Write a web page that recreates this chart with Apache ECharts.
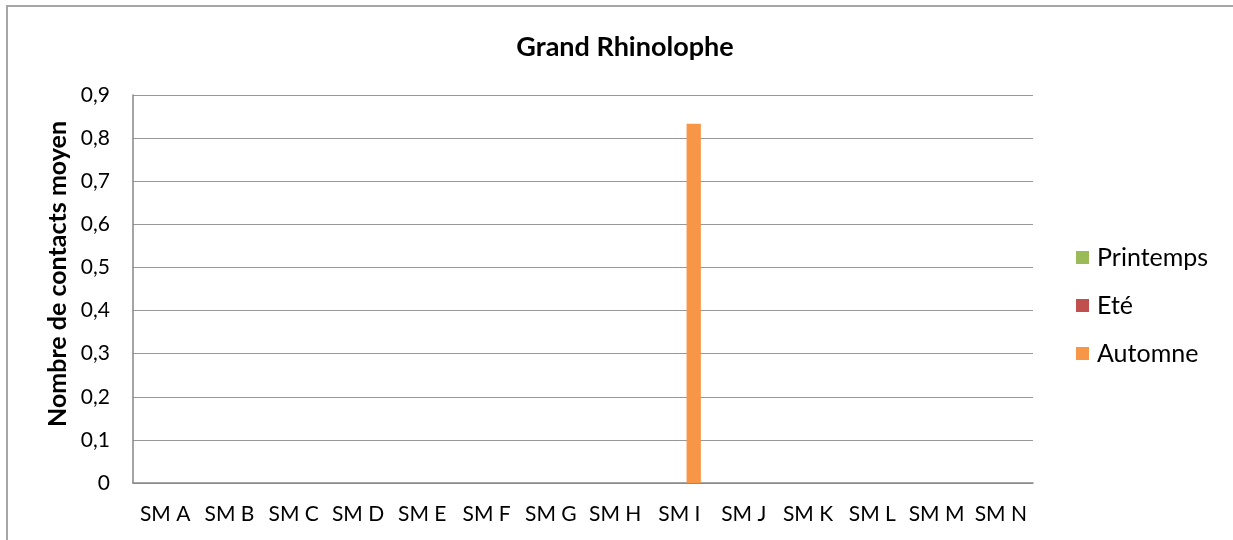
<!DOCTYPE html>
<html>
<head>
<meta charset="utf-8">
<script src="https://cdn.jsdelivr.net/npm/echarts@6/dist/echarts.min.js"></script>
<style>
  html, body { margin: 0; padding: 0; background: #fff; overflow: hidden; }
  #frame { position: absolute; left: 6px; top: 5px; width: 1240px; height: 560px; border-top: 2px solid #a6a6a6; border-left: 2px solid #a6a6a6; box-sizing: border-box; }
  #chart { position: absolute; left: 0; top: 0; width: 1233px; height: 540px; }
</style>
</head>
<body>
<div id="frame"></div>
<div id="chart"></div>
<script>
const categories = ['SM A', 'SM B', 'SM C', 'SM D', 'SM E', 'SM F', 'SM G', 'SM H', 'SM I', 'SM J', 'SM K', 'SM L', 'SM M', 'SM N'];
const printemps = [0, 0, 0, 0, 0, 0, 0, 0, 0, 0, 0, 0, 0, 0];
const ete       = [0, 0, 0, 0, 0, 0, 0, 0, 0, 0, 0, 0, 0, 0];
const automne   = [0, 0, 0, 0, 0, 0, 0, 0, 0.8333, 0, 0, 0, 0, 0];

const FONT = 'Lato, "Open Sans", sans-serif';
const chart = echarts.init(document.getElementById('chart'), null, { renderer: 'canvas' });

function bar(name, data, color) {
  return {
    name, type: 'bar', data,
    barGap: '0%', barCategoryGap: '33.3%',
    itemStyle: { color },
    emphasis: { disabled: true }
  };
}

chart.setOption({
  animation: false,
  backgroundColor: 'transparent',
  title: {
    text: 'Grand Rhinolophe',
    left: 620, top: 29, textAlign: 'center',
    textStyle: { fontFamily: FONT, fontWeight: 'bold', fontSize: 27, color: '#000' }
  },
  legend: {
    orient: 'vertical',
    left: 1076, top: 245, padding: 0,
    itemWidth: 13, itemHeight: 13, itemGap: 23,
    icon: 'rect',
    textStyle: { fontFamily: FONT, fontSize: 25, color: '#000', padding: [0, 0, 0, 3] },
    data: ['Printemps', 'Eté', 'Automne']
  },
  grid: { left: 133, right: 200, top: 95, bottom: 57, containLabel: false },
  xAxis: {
    type: 'category',
    data: categories,
    axisLine: { lineStyle: { color: '#868686', width: 1.5 } },
    axisTick: { show: false },
    axisLabel: { interval: 0, fontFamily: FONT, fontSize: 21, color: '#000', margin: 21 }
  },
  yAxis: {
    type: 'value',
    min: 0, max: 0.9, interval: 0.1,
    name: 'Nombre de contacts moyen',
    nameLocation: 'middle',
    nameGap: 61,
    nameTextStyle: { fontFamily: FONT, fontWeight: 'bold', fontSize: 25, color: '#000', padding: [0, 0, 0, 30] },
    axisLine: { show: true, lineStyle: { color: '#868686', width: 1.5 } },
    axisTick: { show: false },
    splitLine: { lineStyle: { color: '#989898', width: 1 } },
    axisLabel: {
      fontFamily: FONT, fontSize: 21, color: '#000', margin: 23,
      formatter: v => String(Math.round(v * 10) / 10).replace('.', ',')
    }
  },
  series: [
    bar('Printemps', printemps, '#9bbb59'),
    bar('Eté', ete, '#c0504d'),
    bar('Automne', automne, '#f79646')
  ]
});
</script>
</body>
</html>
